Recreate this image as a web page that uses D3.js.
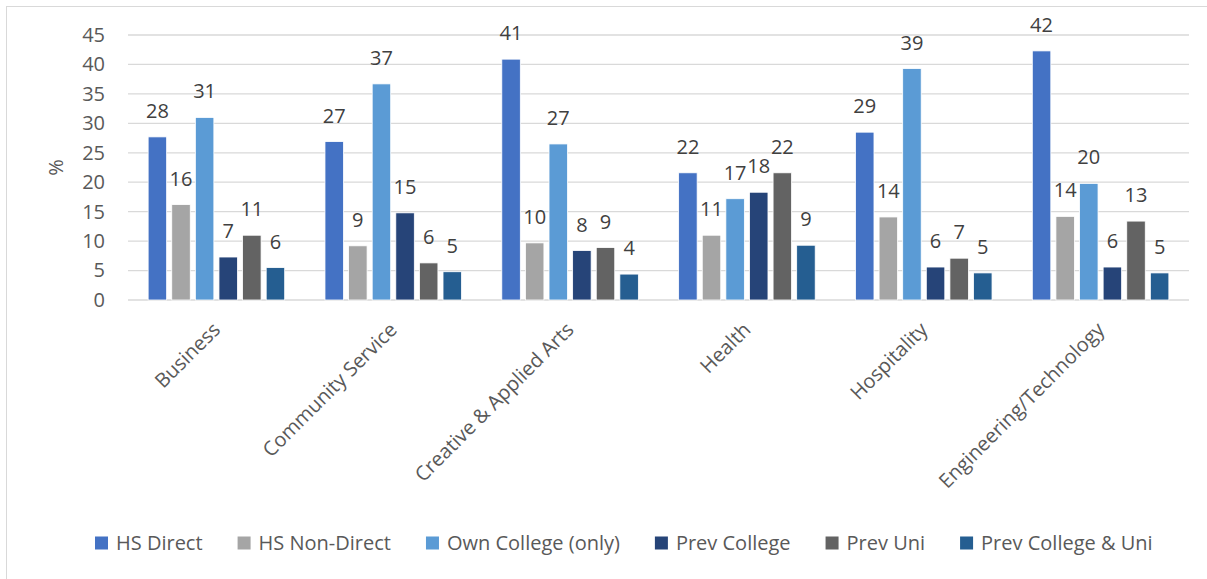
<!DOCTYPE html>
<html>
<head>
<meta charset="utf-8">
<script src="https://cdn.jsdelivr.net/npm/d3@7"></script>
<style>
  html, body { margin: 0; padding: 0; background: #fff; }
  svg { display: block; font-family: "Open Sans", sans-serif; }
</style>
</head>
<body>
<svg id="chart" width="1207" height="579"></svg>
<script>
// Program areas along the x axis
const categories = ["Business", "Community Service", "Creative & Applied Arts", "Health", "Hospitality", "Engineering/Technology"];

// Student pathway series (percent of students in each program area)
const seriesNames = ["HS Direct", "HS Non-Direct", "Own College (only)", "Prev College", "Prev Uni", "Prev College & Uni"];
const hsDirect       = [27.7, 26.9, 40.9, 21.6, 28.5, 42.3];
const hsNonDirect    = [16.2, 9.2, 9.7, 11.0, 14.1, 14.2];
const ownCollege     = [31.0, 36.7, 26.5, 17.2, 39.3, 19.8];
const prevCollege    = [7.3, 14.8, 8.4, 18.3, 5.6, 5.6];
const prevUni        = [11.0, 6.3, 8.9, 21.6, 7.1, 13.4];
const prevCollegeUni = [5.5, 4.8, 4.4, 9.3, 4.6, 4.6];
const seriesValues = [hsDirect, hsNonDirect, ownCollege, prevCollege, prevUni, prevCollegeUni];
const seriesColors = ["#4472C4", "#A5A5A5", "#5B9BD5", "#264478", "#636363", "#255E91"];

const yTicks = [0, 5, 10, 15, 20, 25, 30, 35, 40, 45];
const yLabel = "%";

const svg = d3.select("#chart");

// chart frame
svg.append("rect")
  .attr("x", 6.5).attr("y", 6.5)
  .attr("width", 1220).attr("height", 600)
  .attr("fill", "none").attr("stroke", "#d9d9d9").attr("stroke-width", 1);

const plot = { left: 128, right: 1189, top: 35, bottom: 300 };

const x0 = d3.scaleBand().domain(categories).range([plot.left, plot.right]).paddingInner(0).paddingOuter(0);
const x1 = d3.scaleBand().domain(seriesNames).range([0, x0.bandwidth()]).paddingInner(0.216).paddingOuter(0.853);
const y = d3.scaleLinear().domain([0, 45]).range([plot.bottom, plot.top]);

// horizontal gridlines
svg.append("g")
  .selectAll("line")
  .data(yTicks)
  .join("line")
  .attr("x1", plot.left).attr("x2", plot.right)
  .attr("y1", d => y(d)).attr("y2", d => y(d))
  .attr("stroke", "#d9d9d9").attr("stroke-width", 1.3);

// y axis tick labels
const yAxis = d3.axisLeft(y).tickValues(yTicks).tickSize(0).tickPadding(0);
const yg = svg.append("g").attr("transform", `translate(${plot.left - 23},0)`).call(yAxis);
yg.select(".domain").remove();
yg.selectAll("text")
  .attr("font-family", "Open Sans, sans-serif")
  .attr("font-size", 20).attr("fill", "#595959");

// y axis title
svg.append("text")
  .attr("transform", `translate(${63},${(plot.top + plot.bottom) / 2}) rotate(-90)`)
  .attr("text-anchor", "middle")
  .attr("font-size", 20).attr("fill", "#595959")
  .text(yLabel);

// bars, one group per program area
const groups = svg.append("g")
  .selectAll("g")
  .data(categories)
  .join("g")
  .attr("transform", d => `translate(${x0(d)},0)`);

const cells = groups.selectAll("g.cell")
  .data((c, ci) => seriesNames.map((s, si) => ({ series: s, si, value: seriesValues[si][ci] })))
  .join("g").attr("class", "cell");

cells.append("rect")
  .attr("x", d => x1(d.series))
  .attr("width", x1.bandwidth())
  .attr("y", d => y(d.value))
  .attr("height", d => y(0) - y(d.value))
  .attr("fill", d => seriesColors[d.si])
  .attr("stroke", "#ffffff").attr("stroke-width", 0.8);

const fmt = d3.format(".0f");
cells.append("text")
  .attr("x", d => x1(d.series) + x1.bandwidth() / 2)
  .attr("y", d => y(d.value) - 19)
  .attr("text-anchor", "middle")
  .attr("font-size", 20).attr("fill", "#404040")
  .text(d => fmt(d.value));

// category labels, rotated
svg.append("g")
  .selectAll("text")
  .data(categories)
  .join("text")
  .attr("transform", d => `translate(${x0(d) + x0.bandwidth() / 2 + 5},${plot.bottom + 31}) rotate(-45)`)
  .attr("text-anchor", "end")
  .attr("font-size", 20).attr("fill", "#595959")
  .text(d => d);

// legend
const legend = svg.append("g").attr("transform", "translate(95,543)");
let lx = 0;
seriesNames.forEach((name, i) => {
  const item = legend.append("g").attr("transform", `translate(${lx},0)`);
  item.append("rect")
    .attr("x", 0).attr("y", -6.5)
    .attr("width", 13).attr("height", 13)
    .attr("fill", seriesColors[i]);
  const t = item.append("text")
    .attr("x", 21).attr("y", 0).attr("dy", "0.35em")
    .attr("font-size", 20).attr("fill", "#595959")
    .text(name);
  lx += 21 + t.node().getComputedTextLength() + 35;
});
</script>
</body>
</html>
